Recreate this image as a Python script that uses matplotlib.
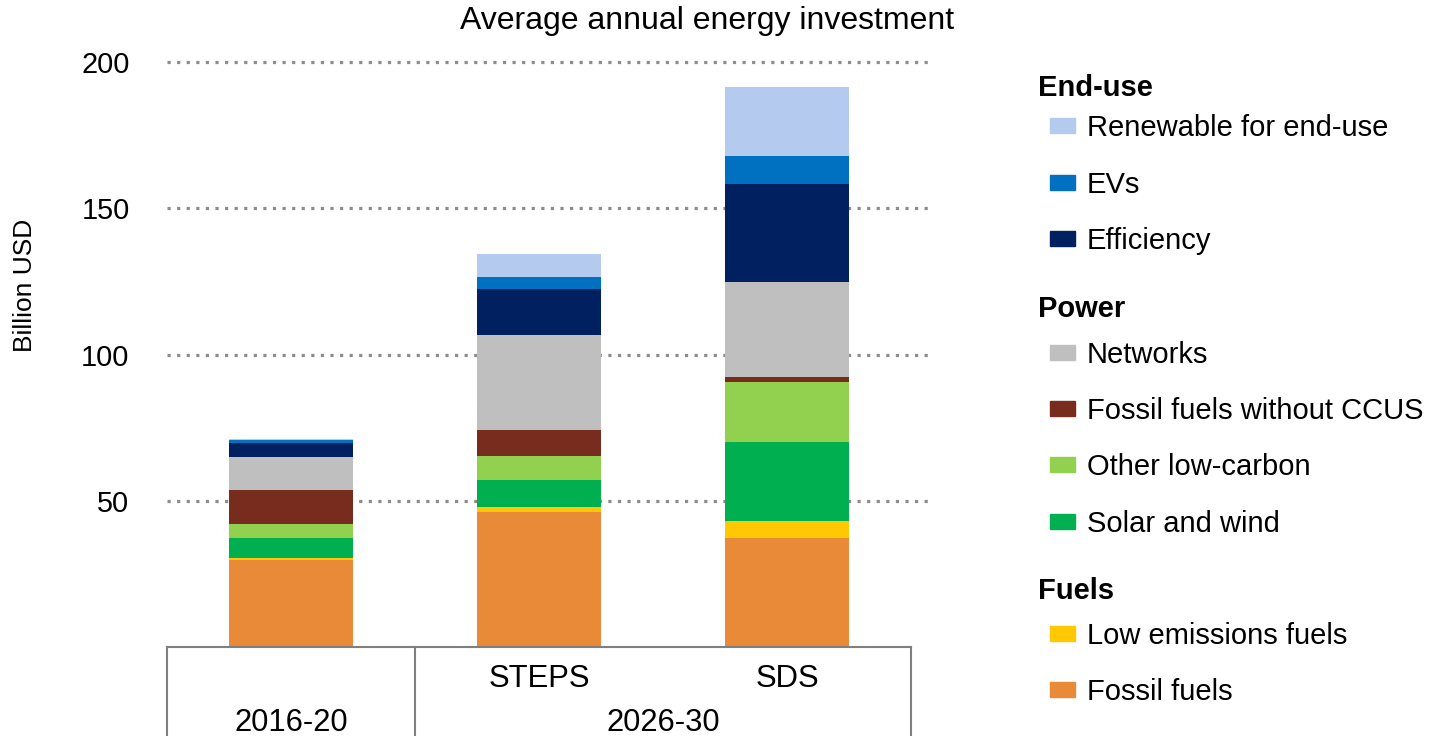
import matplotlib
matplotlib.use("Agg")
import matplotlib.pyplot as plt
from matplotlib.patches import Rectangle
from matplotlib.lines import Line2D
import numpy as np

plt.rcParams['font.family'] = ['Liberation Sans', 'DejaVu Sans']

# ---- data ----
bar_labels = ["", "STEPS", "SDS"]
period_labels = ["2016-20", "2026-30"]
series_names = ["Fossil fuels", "Low emissions fuels", "Solar and wind", "Other low-carbon",
                "Fossil fuels without CCUS", "Networks", "Efficiency", "EVs",
                "Renewable for end-use"]
fossil_fuels = [29.8, 46.3, 37.4]
low_emissions_fuels = [0.5, 1.5, 5.7]
solar_wind = [6.8, 9.2, 27.1]
other_low_carbon = [4.9, 8.3, 20.3]
fossil_no_ccus = [11.7, 8.9, 1.8]
networks = [11.4, 32.6, 32.6]
efficiency = [4.8, 15.7, 33.5]
evs = [0.7, 4.0, 9.5]
renewable_end_use = [0.5, 7.9, 23.4]
series_values = [fossil_fuels, low_emissions_fuels, solar_wind, other_low_carbon,
                 fossil_no_ccus, networks, efficiency, evs, renewable_end_use]
colors = ["#E88A38", "#FFC800", "#00B050", "#92D050", "#772C1E", "#BFBFBF",
          "#002060", "#0070C0", "#B4CBEF"]
yticks = [50, 100, 150, 200]

legend_groups = [("End-use", ["Renewable for end-use", "EVs", "Efficiency"]),
                 ("Power", ["Networks", "Fossil fuels without CCUS", "Other low-carbon", "Solar and wind"]),
                 ("Fuels", ["Low emissions fuels", "Fossil fuels"])]

W, H = 1431, 736
fig = plt.figure(figsize=(W / 100, H / 100), dpi=100)
ax = fig.add_axes([167 / W, (H - 647) / H, (932 - 167) / W, (647 - 62) / H])

x = np.arange(len(bar_labels))
bottom = np.zeros(len(bar_labels))
for name, vals, c in zip(series_names, series_values, colors):
    ax.bar(x, vals, bottom=bottom, width=0.5, color=c, edgecolor='none', zorder=3, label=name)
    bottom += np.array(vals)

ax.set_xlim(-0.5, -0.5 + (932 - 167) / 248)
ax.set_ylim(0, 200)
for s in ax.spines.values():
    s.set_visible(False)
ax.set_xticks([])
ax.set_yticks(yticks)
ax.set_yticklabels([str(t) for t in yticks], fontsize=20.8)
ax.tick_params(axis='y', length=0, pad=27)
for t in yticks:
    ax.axhline(t, color='#8C8C8C', lw=2.3, ls=(0, (1, 2)), zorder=1, clip_on=False)

# category box
bx = ax.get_xaxis_transform()
ax.add_line(Line2D([-0.5, 2.5], [0, 0], transform=bx, color='#7F7F7F', lw=1.5, clip_on=False, zorder=4))
for xv in [-0.5, 0.5, 2.5]:
    ax.add_line(Line2D([xv, xv], [0, -0.16], transform=bx, color='#7F7F7F', lw=1.5, clip_on=False))
dy = 3
for xi, lab in zip(x, bar_labels):
    if lab:
        ax.annotate(lab, xy=(xi, H - 676 - dy), xycoords=('data', 'figure pixels'),
                    ha='center', va='center', fontsize=22.3)
ax.annotate(period_labels[0], xy=(0, H - 720 - dy), xycoords=('data', 'figure pixels'),
            ha='center', va='center', fontsize=22.3)
ax.annotate(period_labels[1], xy=(1.5, H - 720 - dy), xycoords=('data', 'figure pixels'),
            ha='center', va='center', fontsize=22.3)

fig.text(707 / W, (H - 18 - dy) / H, "Average annual energy investment", ha='center', va='center', fontsize=23)
fig.text(25 / W, (H - 285) / H, "Billion USD", ha='center', va='center', rotation=90, fontsize=19)

# legend
color_of = dict(zip(series_names, colors))
header_y = [85, 306, 588]
item_y = [[125, 182, 238], [352, 408, 464, 521], [633, 689]]
for (hdr, items), hy, iys in zip(legend_groups, header_y, item_y):
    fig.text(1038 / W, (H - hy - dy) / H, hdr, ha='left', va='center', fontsize=21, fontweight='bold')
    for it, iy in zip(items, iys):
        fig.patches.append(Rectangle((1050 / W, (H - iy - 7.5) / H), 25 / W, 15 / H,
                                     transform=fig.transFigure, color=color_of[it]))
        fig.text(1087 / W, (H - iy - dy) / H, it, ha='left', va='center', fontsize=21)

fig.savefig("out.png", dpi=100)
